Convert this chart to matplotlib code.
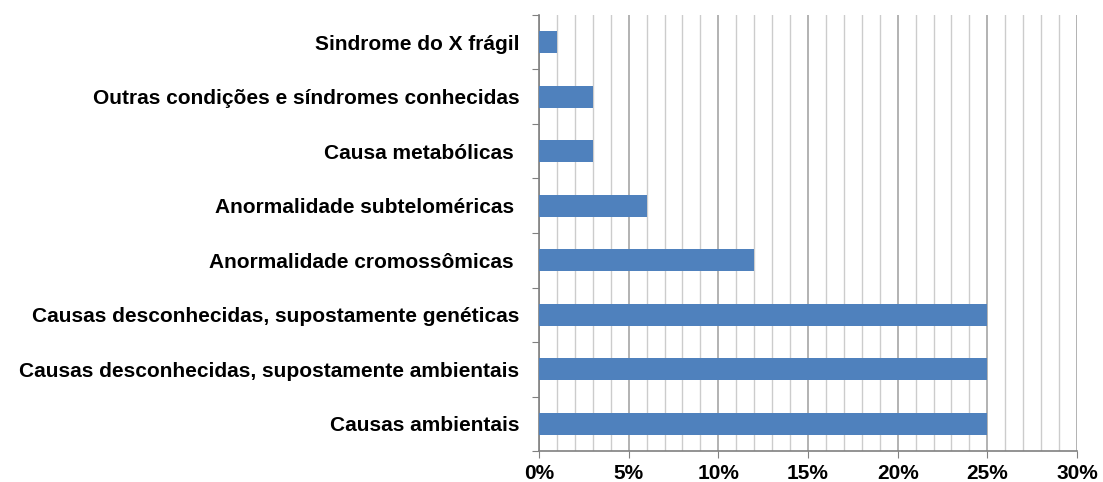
import numpy as np
import matplotlib.pyplot as plt
from matplotlib.ticker import MultipleLocator, FuncFormatter

# categories listed bottom -> top, as they appear on the y axis
categories = [
    "Causas ambientais",
    "Causas desconhecidas, supostamente ambientais",
    "Causas desconhecidas, supostamente genéticas",
    "Anormalidade cromossômicas ",
    "Anormalidade subteloméricas ",
    "Causa metabólicas ",
    "Outras condições e síndromes conhecidas",
    "Sindrome do X frágil",
]
percent = [25, 25, 25, 12, 6, 3, 3, 1]

plt.rcParams["font.family"] = ["Liberation Sans", "DejaVu Sans"]

fig = plt.figure(figsize=(11.03, 4.82), dpi=100)
ax = fig.add_axes([0.4887, 0.0643, 0.4877, 0.9046])

y = np.arange(len(categories))
ax.barh(y, percent, height=0.4, color="#4F81BD", zorder=3)

ax.set_xlim(0, 30)
ax.set_ylim(-0.5, len(categories) - 0.5)

ax.xaxis.set_major_locator(MultipleLocator(5))
ax.xaxis.set_minor_locator(MultipleLocator(1))
ax.xaxis.set_major_formatter(FuncFormatter(lambda v, p: f"{v:.0f}%"))
ax.grid(which="minor", axis="x", color="#cccccc", linewidth=1.0, zorder=0)
ax.grid(which="major", axis="x", color="#a6a6a6", linewidth=1.2, zorder=0)
ax.tick_params(axis="x", which="minor", length=0)
ax.tick_params(axis="x", which="major", length=5, color="#808080",
               labelsize=15, pad=4)

# y ticks sit between categories; labels centered on the bars
ax.set_yticks(np.arange(-0.5, len(categories), 1.0))
ax.set_yticklabels([])
ax.set_yticks(y, minor=True)
ax.set_yticklabels(categories, minor=True, fontsize=15, fontweight="bold")
ax.tick_params(axis="y", which="major", length=5, color="#808080")
ax.tick_params(axis="y", which="minor", length=0, pad=14)
for lbl in ax.get_xticklabels():
    lbl.set_fontweight("bold")

for side in ("top", "right"):
    ax.spines[side].set_visible(False)
for side in ("left", "bottom"):
    ax.spines[side].set_color("#808080")
    ax.spines[side].set_linewidth(1.2)

fig.savefig("out.png", dpi=100, facecolor="white")
